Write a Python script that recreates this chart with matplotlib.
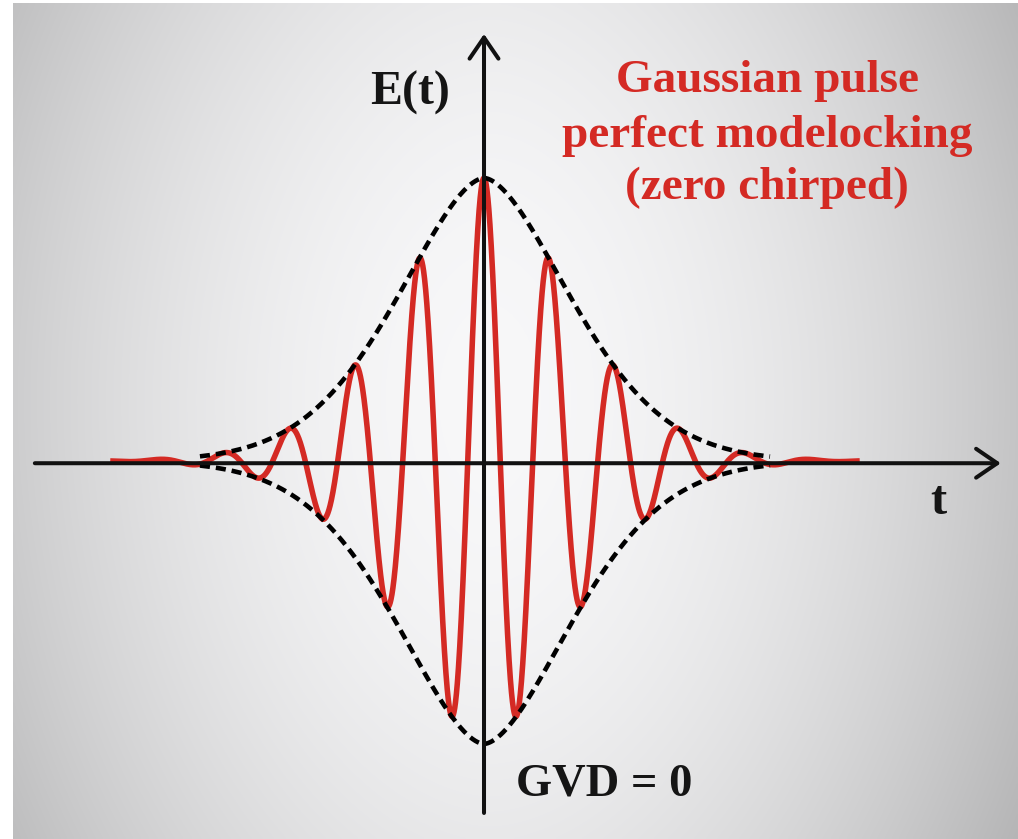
import numpy as np
import matplotlib
matplotlib.use("Agg")
import matplotlib.pyplot as plt

# Pulse description (time in carrier periods, field normalised to the peak)
peak_field = 1.0          # E(0)
carrier_period = 1.0      # optical cycle
envelope_width = 1.90     # 1/e half-width of the envelope
envelope_order = 1.7      # shape exponent of the envelope
field_span = (-5.75, 5.78)     # extent of the drawn field trace
envelope_span = (-4.37, 4.40)  # extent of the dashed envelope

# Axis extents (with arrow tips)
t_axis = (-6.91, 7.95)
e_axis = (-1.244, 1.509)

title_lines = ["Gaussian pulse", "perfect modelocking", "(zero chirped)"]
ylabel_text = "E(t)"
xlabel_text = "t"
gvd_text = "GVD = 0"

RED = "#d42a24"
FONT = "Liberation Serif"

W, H = 1018, 839
fig = plt.figure(figsize=(W / 100, H / 100), dpi=100, facecolor="white")

# Soft grey backdrop, brightest around the pulse centre
bg_ax = fig.add_axes([13 / W, 0, 1 - 13 / W, 1 - 3 / H])
bg_ax.set_axis_off()
xx, yy = np.meshgrid(np.linspace(13, W, 400), np.linspace(3, H, 330))
dx = np.abs(xx - 490) / 510.0
dy = np.abs(yy - 400) / 430.0
lum = np.clip(249 - 48 * dx ** 1.8 - 15 * dy ** 2, 0, 255) / 255.0
rgb = np.dstack([lum * 0.995, lum * 0.995, lum])
bg_ax.imshow(rgb, extent=[0, 1, 0, 1], aspect="auto", interpolation="bilinear")

ax = fig.add_axes([0, 0, 1, 1], facecolor="none")
ax.set_xlim(-7.446, 8.215)
ax.set_ylim(-1.336, 1.629)
ax.set_axis_off()


def envelope(t):
    return peak_field * np.exp(-np.abs(t / envelope_width) ** envelope_order)


t = np.linspace(field_span[0], field_span[1], 4000)
field = envelope(t) * np.cos(2 * np.pi * t / carrier_period)
ax.plot(t, field, color=RED, lw=4.0, solid_capstyle="butt", zorder=3)

te = np.linspace(envelope_span[0], envelope_span[1], 800)
for sign in (1, -1):
    ax.plot(te, sign * envelope(te), color="black", lw=3.3,
            linestyle=(0, (2.2, 1.3)), zorder=4)

# Coordinate axes with open arrow heads
arrow = dict(arrowstyle="->,head_length=0.38,head_width=0.26", color="#111111",
             lw=2.9, mutation_scale=40, shrinkA=0, shrinkB=0)
axis_y = -0.008
ax.annotate("", xy=(t_axis[1], axis_y), xytext=(t_axis[0], axis_y),
            arrowprops=arrow, zorder=5)
ax.annotate("", xy=(0, e_axis[1]), xytext=(0, e_axis[0]),
            arrowprops=arrow, zorder=5)

bold = dict(family=FONT, weight="bold")
ax.text(-1.14, 1.258, ylabel_text, fontsize=34.5, color="#151515",
        ha="center", va="baseline", **bold)
ax.text(6.985, -0.187, xlabel_text, fontsize=35, color="#151515",
        ha="center", va="baseline", **bold)
ax.text(1.846, -1.184, gvd_text, fontsize=33.5, color="#151515",
        ha="center", va="baseline", **bold)
for label, y in zip(title_lines, (1.304, 1.110, 0.926)):
    ax.text(4.354, y, label, fontsize=34, color=RED,
            ha="center", va="baseline", **bold)

fig.savefig("out.png", dpi=100, facecolor="white")
